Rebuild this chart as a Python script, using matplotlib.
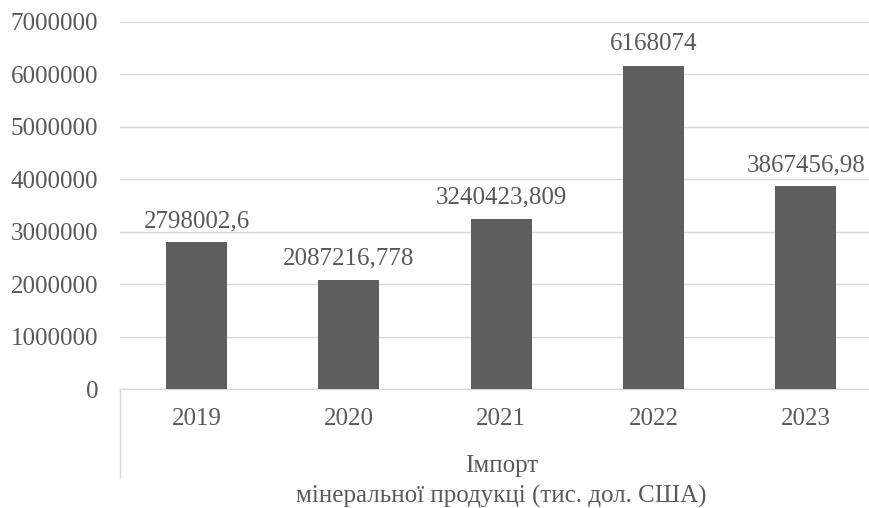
import matplotlib.pyplot as plt
from matplotlib.transforms import blended_transform_factory

years = ['2019', '2020', '2021', '2022', '2023']
imports = [2798002.6, 2087216.778, 3240423.809, 6168074, 3867456.98]
value_labels = ['2798002,6', '2087216,778', '3240423,809', '6168074', '3867456,98']
group_label = 'Імпорт'
axis_title = 'мінеральної продукці (тис. дол. США)'

plt.rcParams['font.family'] = ['Liberation Serif', 'DejaVu Serif']
text_color = '#595959'
fs = 18

fig = plt.figure(figsize=(8.7, 5.08), dpi=100)
ax = fig.add_axes([120.5 / 870, 119 / 508, 761.5 / 870, 367 / 508])

x = range(len(years))
bars = ax.bar(x, imports, width=0.4, color='#5e5e5e', zorder=3)

for xi, val, lab in zip(x, imports, value_labels):
    ax.annotate(lab, (xi, val), xytext=(0, 11), textcoords='offset points',
                ha='center', va='baseline', fontsize=fs, color=text_color)

ax.set_xlim(-0.5, len(years) - 0.5)
ax.set_ylim(0, 7000000)
ax.set_yticks(range(0, 7000001, 1000000))
ax.set_yticklabels([str(v) for v in range(0, 7000001, 1000000)])
ax.set_xticks(list(x))
ax.set_xticklabels(years)
ax.tick_params(axis='both', length=0, labelsize=fs, labelcolor=text_color)
ax.tick_params(axis='y', pad=16)
ax.tick_params(axis='x', pad=14)

ax.grid(axis='y', color='#d9d9d9', linewidth=1.0, zorder=0)
for s in ['top', 'right', 'left']:
    ax.spines[s].set_visible(False)
ax.spines['bottom'].set_color('#d9d9d9')
ax.spines['bottom'].set_linewidth(1.0)

# multi-level category axis: group label and separator line
trans = blended_transform_factory(ax.transData, ax.transAxes)
ax.plot([-0.5, -0.5], [0, -89 / 367], transform=trans, color='#d9d9d9',
        linewidth=1.0, clip_on=False)
ax.text(2, -77 / 367, group_label, transform=trans, ha='center', va='center',
        fontsize=fs, color=text_color)

ax.set_xlabel(axis_title, fontsize=fs, color=text_color, labelpad=39)

fig.savefig('out.png', dpi=100)
